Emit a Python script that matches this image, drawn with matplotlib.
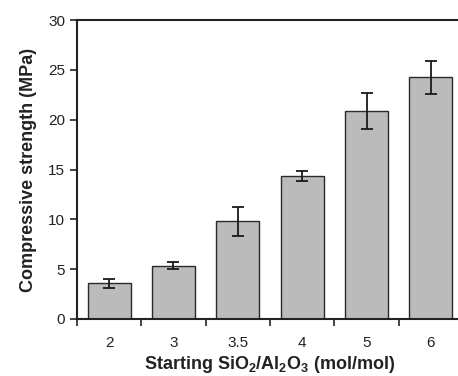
import numpy as np
import matplotlib.pyplot as plt

# Data
ratios = ['2', '3', '3.5', '4', '5', '6']
strength = [3.6, 5.35, 9.8, 14.35, 20.9, 24.25]
errors = [0.45, 0.37, 1.45, 0.5, 1.8, 1.65]

plt.rcParams['font.family'] = ['Liberation Sans', 'DejaVu Sans']
plt.rcParams['mathtext.fontset'] = 'custom'
plt.rcParams['mathtext.bf'] = 'Liberation Sans:bold'
plt.rcParams['mathtext.rm'] = 'Liberation Sans:bold'

fig = plt.figure(figsize=(4.58, 3.76), dpi=100)
ax = fig.add_axes([0.168, 0.1516, 0.843, 0.7952])

x = np.arange(len(ratios))
ax.bar(x, strength, width=0.67, color='#bbbbbb', edgecolor='#2a2a2a', linewidth=1.0, zorder=2)
ax.errorbar(x, strength, yerr=errors, fmt='none', ecolor='#1a1a1a',
            elinewidth=1.3, capsize=4.5, capthick=1.3, zorder=3)

ax.set_xlim(-0.5, 5.5)
ax.set_ylim(0, 30)
ax.set_yticks([0, 5, 10, 15, 20, 25, 30])

# category labels at centres, ticks on the boundaries
ax.set_xticks(x)
ax.set_xticklabels(ratios)
ax.set_xticks(np.arange(-0.5, 5.6, 1), minor=True)
ax.tick_params(axis='x', which='major', length=0, pad=12, labelsize=11, colors='#222222')
ax.tick_params(axis='x', which='minor', length=5, width=1.2, color='#222222')
ax.tick_params(axis='y', length=5, width=1.2, labelsize=11, color='#222222', labelcolor='#222222')

for side in ['left', 'bottom', 'top']:
    ax.spines[side].set_linewidth(1.5)
    ax.spines[side].set_color('#222222')
ax.spines['right'].set_visible(False)

ax.set_ylabel('Compressive strength (MPa)', fontsize=13, fontweight='bold', labelpad=8, color='#222222')
ax.set_xlabel('Starting SiO$_{2}$/Al$_{2}$O$_{3}$ (mol/mol)', fontsize=13,
              fontweight='bold', labelpad=3, color='#222222')

fig.savefig('out.png', dpi=100)
